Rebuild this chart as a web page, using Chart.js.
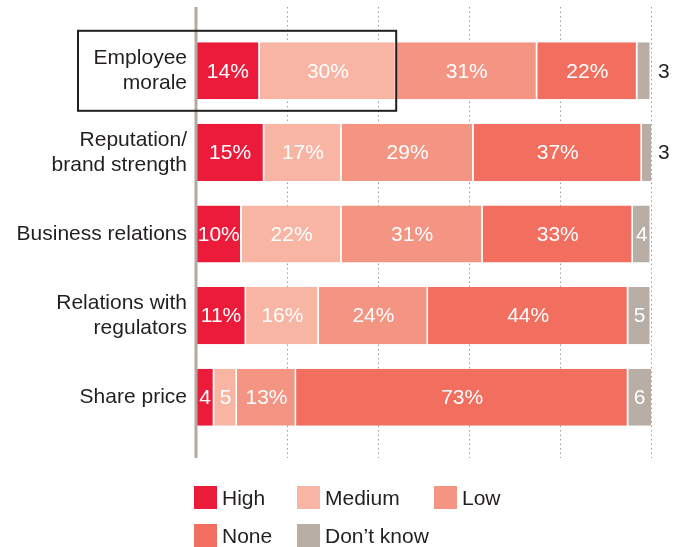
<!DOCTYPE html>
<html lang="en">
<head>
  <meta charset="UTF-8" />
  <title>Impact ratings</title>
  <script src="https://cdn.jsdelivr.net/npm/chart.js"></script>
  <style>
    body { margin: 0; background: #fff; font-family: "Liberation Sans", Arial, sans-serif; }
    #wrap { position: relative; width: 685px; height: 547px; }
    #legend { position: absolute; left: 0; top: 0; width: 685px; height: 547px; pointer-events: none; }
    .item { position: absolute; display: flex; align-items: center; height: 23px; font-size: 21px; color: #231f20; white-space: nowrap; }
    .item .box { width: 23px; height: 23px; margin-right: 5px; }
  </style>
</head>
<body>
  <div id="wrap">
    <canvas id="chart" width="685" height="547"></canvas>
    <div id="legend"></div>
  </div>

  <script>
    const categories = [["Employee", "morale"], ["Reputation/", "brand strength"], "Business relations", ["Relations with", "regulators"], "Share price"];
    const seriesNames = ["High", "Medium", "Low", "None", "Don’t know"];
    const high = [14, 15, 10, 11, 4];
    const medium = [30, 17, 22, 16, 5];
    const low = [31, 29, 31, 24, 13];
    const none = [22, 37, 33, 44, 73];
    const dontKnow = [3, 3, 4, 5, 6];
    const gridValues = [20, 40, 60, 80, 100];
    const colors = ["#ed1b3a", "#f9b5a3", "#f49482", "#f26e5f", "#b8aea5"];

    const series = [high, medium, low, none, dontKnow];
    const FONT = '"Liberation Sans", Arial, sans-serif';

    // dotted grid, axis line, value labels and the box round the first row
    const decor = {
      id: "decor",
      beforeDatasetsDraw(chart) {
        const { ctx, chartArea: a, scales: { x } } = chart;
        ctx.save();
        ctx.strokeStyle = "#9b9b9b";
        ctx.lineWidth = 1;
        ctx.setLineDash([1.5, 3]);
        gridValues.forEach(v => {
          const px = Math.round(x.getPixelForValue(v)) + 0.5;
          ctx.beginPath();
          ctx.moveTo(px, a.top - 23);
          ctx.lineTo(px, a.bottom + 20);
          ctx.stroke();
        });
        ctx.restore();
      },
      afterDatasetsDraw(chart) {
        const { ctx, chartArea: a, scales: { x, y } } = chart;
        ctx.save();
        const x0 = x.getPixelForValue(0);
        ctx.strokeStyle = "#b3a9a1";
        ctx.lineWidth = 3;
        ctx.beginPath();
        ctx.moveTo(x0, a.top - 23);
        ctx.lineTo(x0, a.bottom + 20);
        ctx.stroke();

        ctx.font = "21px " + FONT;
        ctx.textBaseline = "middle";
        chart.data.datasets.forEach((ds, i) => {
          chart.getDatasetMeta(i).data.forEach((bar, j) => {
            const v = ds.data[j];
            const right = Math.min(bar.x, a.right);
            const w = right - bar.base;
            const txt = v >= 10 ? v + "%" : String(v);
            if (w < 16) {
              ctx.fillStyle = "#231f20";
              ctx.textAlign = "left";
              ctx.fillText(txt, a.right + 7, bar.y + 1);
            } else {
              ctx.fillStyle = "#fff";
              ctx.textAlign = "center";
              ctx.fillText(txt, (bar.base + right) / 2, bar.y + 1);
            }
          });
        });

        const yc = y.getPixelForValue(0);
        const xr = x.getPixelForValue(high[0] + medium[0]);
        ctx.strokeStyle = "#231f20";
        ctx.lineWidth = 2;
        ctx.strokeRect(78, yc - 40, xr - 78, 80);
        ctx.restore();
      }
    };

    const chart = new Chart(document.getElementById("chart"), {
      type: "bar",
      data: {
        labels: categories,
        datasets: series.map((data, i) => ({
          label: seriesNames[i],
          data: data,
          backgroundColor: colors[i],
          borderColor: "#fff",
          borderWidth: { left: 0, right: 1.5, top: 0, bottom: 0 },
          borderSkipped: false,
          barPercentage: 0.7,
          categoryPercentage: 1,
          clip: 0
        }))
      },
      options: {
        indexAxis: "y",
        responsive: false,
        animation: false,
        devicePixelRatio: 1,
        layout: { padding: { top: 30, right: 34, bottom: 109, left: 0 } },
        scales: {
          x: { stacked: true, min: 0, max: 100, display: false },
          y: {
            stacked: true,
            grid: { display: false },
            border: { display: false },
            ticks: { color: "#231f20", padding: 1, font: { family: FONT, size: 21 } },
            afterFit: s => { s.width = 196; }
          }
        },
        plugins: { legend: { display: false }, tooltip: { enabled: false } }
      },
      plugins: [decor]
    });

    // legend: two rows under the plot
    const slots = [[194, 486], [297, 486], [434, 486], [194, 524], [297, 524]];
    const legend = document.getElementById("legend");
    seriesNames.forEach((name, i) => {
      const el = document.createElement("div");
      el.className = "item";
      el.style.left = slots[i][0] + "px";
      el.style.top = slots[i][1] + "px";
      el.innerHTML = `<span class="box" style="background:${colors[i]}"></span>${name}`;
      legend.appendChild(el);
    });
  </script>
</body>
</html>
